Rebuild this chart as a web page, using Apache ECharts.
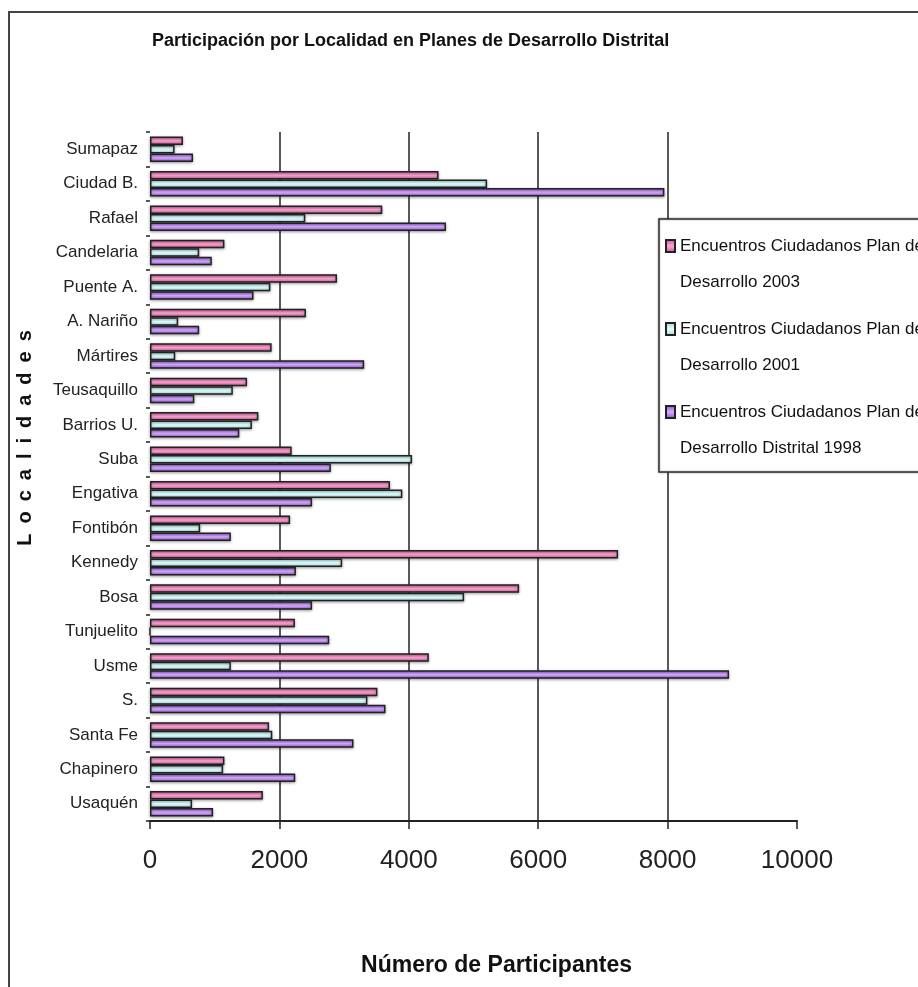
<!DOCTYPE html>
<html>
<head>
<meta charset="utf-8">
<title>Participación por Localidad</title>
<script src="https://cdn.jsdelivr.net/npm/echarts@6/dist/echarts.min.js"></script>
<style>
  html, body { margin: 0; padding: 0; background: #fff; }
  #chart { width: 918px; height: 987px; }
</style>
</head>
<body>
<div id="chart"></div>
<script>
// localidades, de arriba hacia abajo
const localidades = ['Sumapaz', 'Ciudad B.', 'Rafael', 'Candelaria', 'Puente A.', 'A. Nariño', 'Mártires',
  'Teusaquillo', 'Barrios U.', 'Suba', 'Engativa', 'Fontibón', 'Kennedy', 'Bosa', 'Tunjuelito',
  'Usme', 'S.', 'Santa Fe', 'Chapinero', 'Usaquén']

const plan2003 = [510, 4460, 3590, 1150, 2890, 2410, 1880, 1500, 1675, 2190, 3710, 2165, 7235, 5705, 2240,
  4310, 3515, 1840, 1150, 1745]
const plan2001 = [380, 5210, 2400, 760, 1860, 435, 390, 1280, 1575, 4050, 3900, 775, 2970, 4855, 0,
  1250, 3360, 1890, 1130, 650]
const plan1998 = [665, 7950, 4575, 955, 1600, 760, 3310, 685, 1380, 2795, 2505, 1250, 2255, 2505, 2770,
  8950, 3640, 3145, 2245, 975]

const seriesNames = [
  'Encuentros Ciudadanos Plan de Desarrollo 2003',
  'Encuentros Ciudadanos Plan de Desarrollo 2001',
  'Encuentros Ciudadanos Plan de Desarrollo Distrital 1998'
]

const xTicks = [0, 2000, 4000, 6000, 8000, 10000]

const font = '"Liberation Sans", Arial, sans-serif'

// degradado tipo cilindro como en Excel
function tube(edge, mid) {
  return new echarts.graphic.LinearGradient(0, 0, 0, 1, [
    { offset: 0, color: edge },
    { offset: 0.5, color: mid },
    { offset: 1, color: edge }
  ])
}

function barSeries(name, data, edge, mid) {
  return {
    name: name,
    type: 'bar',
    data: data,
    barWidth: 8.5,
    barGap: '0%',
    itemStyle: {
      color: tube(edge, mid),
      borderColor: '#222',
      borderWidth: 1.5,
      shadowBlur: 3,
      shadowColor: 'rgba(0,0,0,0.35)',
      shadowOffsetY: 1
    }
  }
}

const chart = echarts.init(document.getElementById('chart'))

chart.setOption({
  backgroundColor: '#fff',
  animation: false,
  title: {
    text: 'Participación por Localidad en Planes de Desarrollo Distrital',
    left: 147,
    top: 27,
    textStyle: { fontFamily: font, fontWeight: 'bold', fontSize: 18, color: '#111' }
  },
  graphic: [
    {
      type: 'rect',
      shape: { x: 9, y: 12, width: 1000, height: 1000 },
      style: { fill: 'none', stroke: '#444', lineWidth: 2 },
      z: 1
    },
    {
      type: 'rect',
      shape: { x: 659, y: 219, width: 300, height: 253 },
      style: { fill: '#fff', stroke: '#333', lineWidth: 1.5, shadowBlur: 2, shadowColor: 'rgba(0,0,0,0.4)' },
      z: 3
    },
    {
      // título del eje vertical, algo por encima del centro como en el original
      type: 'text',
      x: 25,
      y: 438,
      rotation: Math.PI / 2,
      style: {
        text: 'L\u2002o\u2002c\u2002a\u2002l\u2002i\u2002d\u2002a\u2002d\u2002e\u2002s',
        font: 'bold 20px "Liberation Sans", Arial, sans-serif',
        fill: '#111',
        align: 'center',
        verticalAlign: 'middle'
      },
      z: 5
    }
  ],
  legend: {
    orient: 'vertical',
    left: 665,
    top: 192,
    padding: 0,
    itemWidth: 9,
    itemHeight: 12,
    itemGap: -25,
    icon: 'rect',
    z: 5,
    formatter: function (name) {
      const i = name.indexOf('Plan de') + 7
      return '\n' + name.slice(0, i) + '\n' + name.slice(i + 1)
    },
    textStyle: { fontFamily: font, fontSize: 17, lineHeight: 36, color: '#111' }
  },
  grid: {
    left: 150,
    right: 121,
    top: 132,
    bottom: 166
  },
  xAxis: {
    type: 'value',
    min: xTicks[0],
    max: xTicks[xTicks.length - 1],
    interval: xTicks[1] - xTicks[0],
    name: 'Número de Participantes',
    nameLocation: 'middle',
    nameGap: 133,
    nameTextStyle: { fontFamily: font, fontWeight: 'bold', fontSize: 23, color: '#111', padding: [0, 0, 0, 46] },
    axisLine: { show: true, lineStyle: { color: '#222', width: 2 } },
    axisTick: { show: true, length: 8, lineStyle: { color: '#222', width: 1.5 } },
    axisLabel: {
      margin: 27,
      fontFamily: font,
      fontSize: 26,
      color: '#222',
      formatter: function (v) { return String(v) }
    },
    splitLine: { show: true, showMinLine: false, showMaxLine: false, lineStyle: { color: '#222', width: 1.5 } }
  },
  yAxis: {
    type: 'category',
    inverse: true,
    data: localidades,
    axisLine: { show: false },
    axisTick: { show: true, length: 4, lineStyle: { color: '#222', width: 1.5 } },
    axisLabel: { margin: 12, fontFamily: font, fontSize: 17, color: '#222' },
    splitLine: { show: false }
  },
  series: [
    barSeries(seriesNames[0], plan2003, '#c0588f', '#ffa3d4'),
    barSeries(seriesNames[1], plan2001, '#9fd4d4', '#e4ffff'),
    barSeries(seriesNames[2], plan1998, '#8a52c6', '#d6adff')
  ]
})
</script>
</body>
</html>
